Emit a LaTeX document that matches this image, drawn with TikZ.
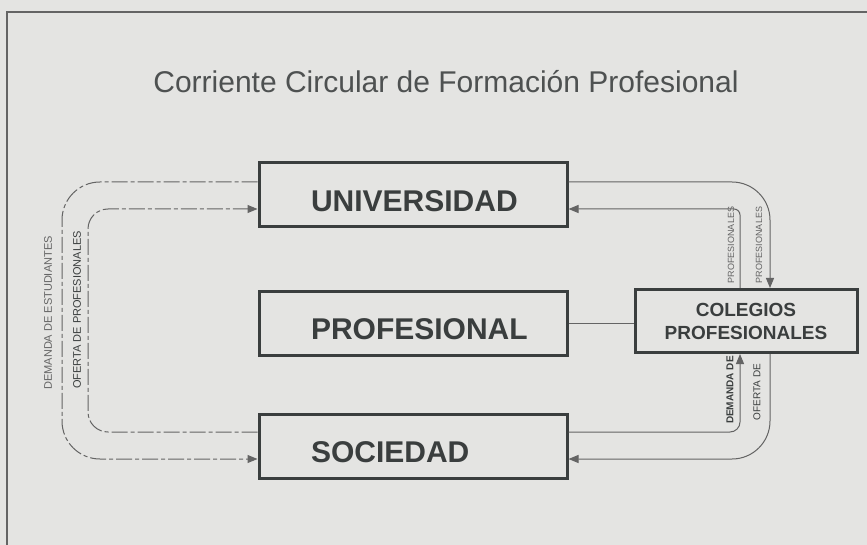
\documentclass[tikz,border=0pt]{standalone}
\usepackage{fontspec}
\setmainfont{Liberation Sans}
\usepackage{xcolor}
\usetikzlibrary{arrows.meta}
\definecolor{paper}{RGB}{228,228,226}
\definecolor{ink}{RGB}{58,62,62}
\definecolor{wire}{RGB}{100,100,100}
\tikzset{
    mainbox/.style={draw=ink, line width=3pt, minimum height=64pt, inner xsep=52pt, text width=204pt, align=left, text height=33pt, text depth=0pt, text=ink, font=\fontsize{30}{36}\selectfont\bfseries},
    colbox/.style={draw=ink, line width=3pt, minimum width=222pt, minimum height=63pt, align=center, text=ink, font=\fontsize{19}{23}\selectfont\bfseries},
    flow/.style={draw=wire, line width=1pt, -{Triangle[length=10pt,width=8pt]}},
    sketchy/.style={dash pattern=on 16pt off 3pt on 4pt off 3pt},
    link/.style={draw=wire, line width=1pt},
    tag/.style={rotate=90, inner sep=1pt, text=wire, font=\fontsize{11}{11}\selectfont}
}

\begin{document}
\begin{tikzpicture}[x=1pt, y=-1pt]
    \fill[paper] (0,0) rectangle (867,545);
    \useasboundingbox (0,0) rectangle (867,545);
    \draw[wire, line width=1.2pt] (7,545) -- (7,12) -- (867,12);
    \node[text=ink!90, font=\fontsize{30}{36}\selectfont] (title) at (446,82) {Corriente Circular de Formación Profesional};

    \node[mainbox] (univ) at (413,195) {UNIVERSIDAD};
    \node[mainbox] (prof) at (413,323) {PROFESIONAL};
    \node[mainbox] (soc) at (413,446) {SOCIEDAD};
    \node[colbox] (coleg) at (746,321) {COLEGIOS\\PROFESIONALES};
    \draw[link] (prof.east) -- (prof.east -| coleg.west);

    % left loop
    \coordinate (lout) at (62,320);
    \coordinate (lin) at (88,320);
    \draw[flow, sketchy, rounded corners=38pt] ([yshift=13pt]univ.west) -| (lout) |- ([yshift=-13pt]soc.west);
    \draw[flow, sketchy, rounded corners=20pt] ([yshift=14pt]soc.west) -| (lin) |- ([yshift=-14pt]univ.west);
    \node[tag] (demEst) at (48,313) {DEMANDA DE ESTUDIANTES};
    \node[tag, text=ink] (ofePro) at (77,310) {OFERTA DE PROFESIONALES};

    % right loop
    \draw[flow, rounded corners=38pt] ([yshift=13pt]univ.east) -| ([xshift=24pt]coleg.north);
    \draw[flow, rounded corners=6pt] ([xshift=-6pt]coleg.north) |- ([yshift=-14pt]univ.east);
    \draw[flow, rounded corners=10pt] ([yshift=14pt]soc.east) -| ([xshift=-6pt]coleg.south);
    \draw[flow, rounded corners=38pt] ([xshift=24pt]coleg.south) |- ([yshift=-13pt]soc.east);
    \node[tag, font=\fontsize{9}{9}\selectfont] (proDem) at (731,245) {PROFESIONALES};
    \node[tag, font=\fontsize{9}{9}\selectfont] (proOfe) at (759,245) {PROFESIONALES};
    \node[tag, text=ink, font=\fontsize{10}{10}\selectfont\bfseries] (demCol) at (730,390) {DEMANDA DE};
    \node[tag, text=ink, font=\fontsize{10}{10}\selectfont] (ofeCol) at (757,392) {OFERTA DE};
\end{tikzpicture}
\end{document}
